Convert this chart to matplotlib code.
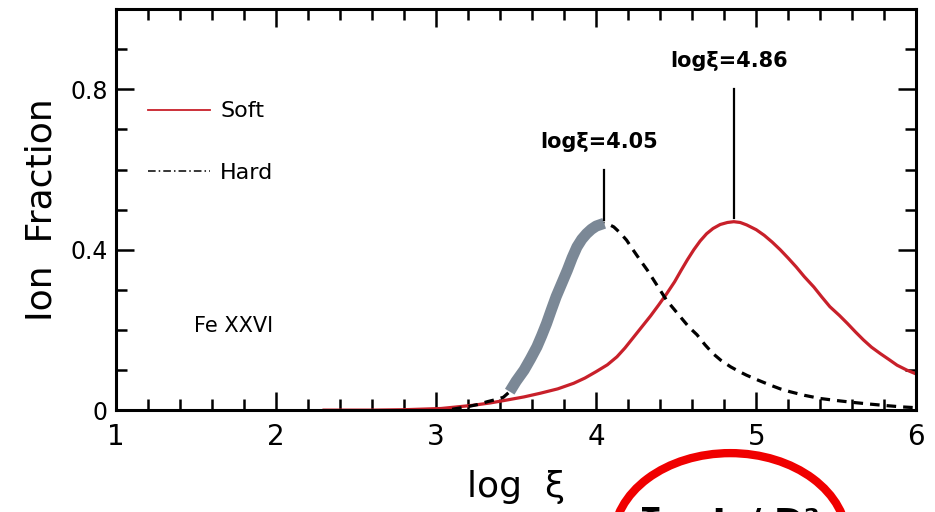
import matplotlib
matplotlib.use('Agg')
import matplotlib.pyplot as plt
from matplotlib.lines import Line2D
from matplotlib.patches import Ellipse
from matplotlib.ticker import MultipleLocator, FixedFormatter, FixedLocator

# ion fraction of Fe XXVI vs log xi, for the soft and hard SED
soft_x = [2.30, 2.60, 2.80, 3.03, 3.13, 3.23, 3.34, 3.44, 3.55, 3.65, 3.76, 3.86,
          3.93, 4.00, 4.07, 4.13, 4.18, 4.23, 4.28, 4.34, 4.39, 4.44, 4.49, 4.53,
          4.57, 4.61, 4.65, 4.69, 4.73, 4.775, 4.82, 4.86, 4.90, 4.94, 5.00, 5.05,
          5.10, 5.15, 5.20, 5.25, 5.30, 5.36, 5.41, 5.46, 5.52, 5.57, 5.62, 5.67,
          5.72, 5.775, 5.83, 5.88, 5.94, 6.00]
soft_y = [0.000, 0.000, 0.001, 0.004, 0.008, 0.012, 0.018, 0.025, 0.033, 0.042,
          0.053, 0.067, 0.080, 0.096, 0.113, 0.133, 0.155, 0.180, 0.205, 0.235,
          0.262, 0.290, 0.320, 0.348, 0.375, 0.400, 0.422, 0.440, 0.453, 0.463,
          0.468, 0.470, 0.468, 0.462, 0.450, 0.436, 0.419, 0.400, 0.379, 0.357,
          0.333, 0.307, 0.282, 0.258, 0.236, 0.216, 0.195, 0.175, 0.157, 0.141,
          0.126, 0.112, 0.100, 0.090]

hard_x = [3.10, 3.19, 3.26, 3.32, 3.38, 3.42, 3.46, 3.50, 3.55, 3.59, 3.63, 3.66,
          3.69, 3.72, 3.75, 3.785, 3.82, 3.85, 3.88, 3.91, 3.94, 3.97, 4.00, 4.05,
          4.08, 4.11, 4.15, 4.19, 4.23, 4.275, 4.32, 4.36, 4.40, 4.44, 4.49, 4.54,
          4.58, 4.63, 4.68, 4.73, 4.78, 4.84, 4.89, 4.94, 5.01, 5.09, 5.15, 5.21,
          5.30, 5.40, 5.50, 5.61, 5.71, 5.82, 5.91, 6.00]
hard_y = [0.002, 0.008, 0.014, 0.021, 0.027, 0.032, 0.046, 0.072, 0.100, 0.128,
          0.158, 0.186, 0.216, 0.250, 0.283, 0.316, 0.349, 0.380, 0.407, 0.426,
          0.440, 0.451, 0.459, 0.466, 0.463, 0.457, 0.442, 0.424, 0.400, 0.374,
          0.349, 0.324, 0.299, 0.274, 0.250, 0.226, 0.207, 0.188, 0.163, 0.141,
          0.124, 0.108, 0.097, 0.087, 0.075, 0.062, 0.053, 0.046, 0.037, 0.029,
          0.024, 0.019, 0.015, 0.011, 0.008, 0.006]

# rising part of the hard curve, highlighted
band_x = [3.46, 3.50, 3.55, 3.59, 3.63, 3.66, 3.69, 3.72, 3.75, 3.785, 3.82, 3.85,
          3.88, 3.91, 3.94, 3.97, 4.00, 4.05]
band_y = [0.046, 0.072, 0.100, 0.128, 0.158, 0.186, 0.216, 0.250, 0.283, 0.316,
          0.349, 0.380, 0.407, 0.426, 0.440, 0.451, 0.459, 0.466]

peak_x = [4.05, 4.86]
peak_y = [0.466, 0.470]
peak_top = [0.60, 0.80]
peak_labels = ['log\u03be=4.05', 'log\u03be=4.86']

yticks = [0, 0.4, 0.8]
ytick_labels = ['0', '0.4', '0.8']

narrow = ['Liberation Sans Narrow', 'DejaVu Sans']
red = '#c8202a'

fig = plt.figure(figsize=(9.35, 5.12), dpi=100)
ax = fig.add_axes([0.124, 0.199, 0.856, 0.783])

ax.plot(soft_x, soft_y, color=red, lw=2.3)
ax.plot(hard_x, hard_y, color='black', lw=2.3, ls=(0, (3, 2.2)))
ax.plot(band_x, band_y, color='#7b8896', lw=8, solid_capstyle='butt')

for px, py, top, lab in zip(peak_x, peak_y, peak_top, peak_labels):
    ax.plot([px, px], [py + 0.008, top], color='black', lw=1.6)
    ax.text(px - 0.03, top + 0.045, lab, ha='center', va='bottom',
            fontsize=15, fontweight='bold', family=narrow)

ax.text(1.49, 0.21, 'Fe XXVI', ha='left', va='center', fontsize=15, family=narrow)

handles = [Line2D([], [], color=red, lw=1.3),
           Line2D([], [], color='black', lw=1.1, ls=(0, (5, 2, 1, 2)))]
ax.legend(handles, ['Soft', 'Hard'], loc='upper left', bbox_to_anchor=(0.04, 0.77),
          borderaxespad=0, borderpad=0, frameon=False, handlelength=2.8,
          handletextpad=0.45, labelspacing=1.85,
          prop={'family': narrow, 'size': 16})

ax.set_xlim(1, 6)
ax.set_ylim(0, 1.0)
ax.xaxis.set_major_locator(MultipleLocator(1))
ax.xaxis.set_minor_locator(MultipleLocator(0.2))
ax.yaxis.set_major_locator(FixedLocator(yticks))
ax.yaxis.set_major_formatter(FixedFormatter(ytick_labels))
ax.yaxis.set_minor_locator(MultipleLocator(0.1))
ax.tick_params(which='both', direction='in', top=True, right=True, width=1.8)
ax.tick_params(which='major', length=13)
ax.tick_params(which='minor', length=8)
ax.tick_params(axis='x', labelsize=20, pad=9)
ax.tick_params(axis='y', labelsize=17, pad=6)
for lab in ax.get_xticklabels() + ax.get_yticklabels():
    lab.set_family(narrow)
for s in ax.spines.values():
    s.set_linewidth(2.2)

ax.set_xlabel('log  \u03be', fontsize=26, labelpad=14)
ax.set_ylabel('Ion  Fraction', fontsize=26, labelpad=8)

# red circle drawn over the bottom edge
fig.add_artist(Ellipse((0.781, -0.055), 0.250, 0.340, transform=fig.transFigure,
                       fill=False, edgecolor='#f00000', lw=6, clip_on=False))
fig.text(0.685, 0.010, '\u03be \u221d L / D\u00b2', ha='left', va='top',
         fontsize=26, fontweight='bold')

fig.savefig('out.png', dpi=100)
